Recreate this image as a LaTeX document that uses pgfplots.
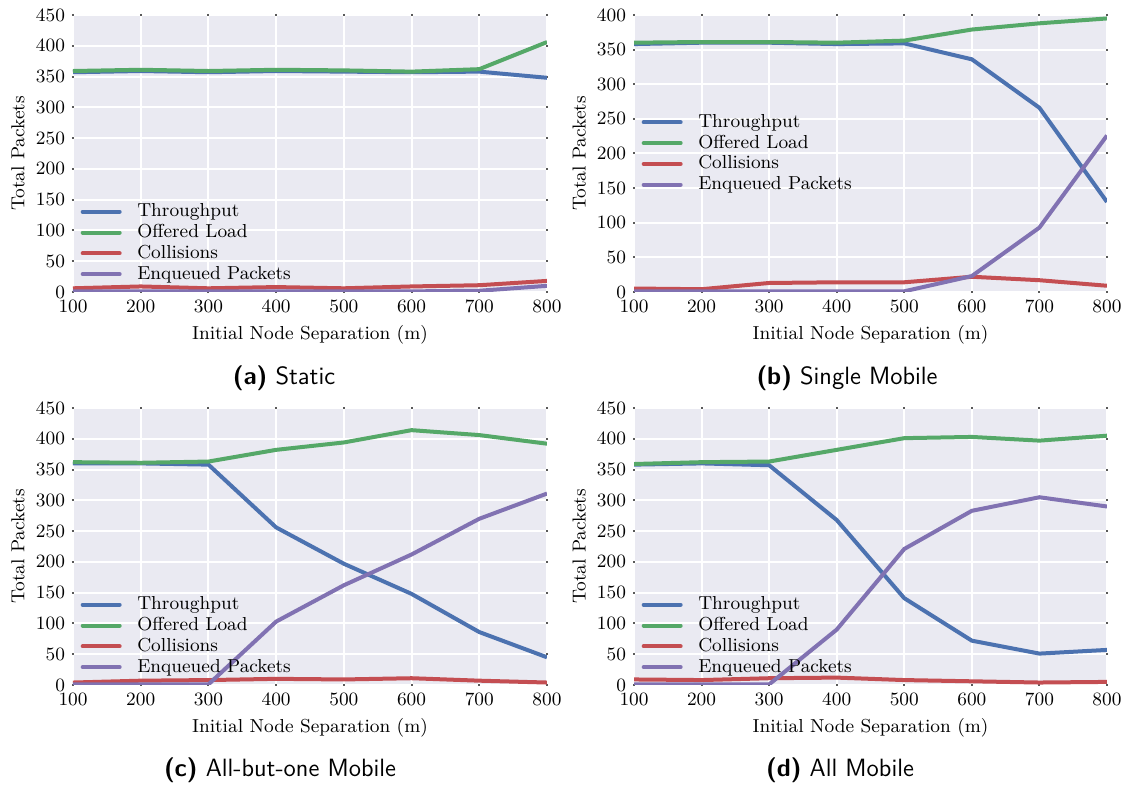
\documentclass[border=0pt]{standalone}
\usepackage{fontspec}
\usepackage{pgfplots}
\pgfplotsset{compat=1.18}
\definecolor{sbblue}{HTML}{4C72B0}
\definecolor{sbgreen}{HTML}{55A868}
\definecolor{sbred}{HTML}{C44E52}
\definecolor{sbpurple}{HTML}{8172B2}
\definecolor{sbbg}{HTML}{EAEAF2}
\newcommand{\fsz}{\fontsize{9.4pt}{11pt}\selectfont}
\newcommand{\capfont}{\sffamily\fontsize{12.5pt}{15pt}\selectfont}
\pgfplotsset{
 sbstyle/.style={
  scale only axis, height=138.5pt,
  xmin=100, xmax=800, ymin=0, enlargelimits=false,
  xtick={100,200,...,800},
  /pgf/number format/assume math mode=true,
  axis background/.style={fill=sbbg},
  axis line style={draw=none},
  grid=major, major grid style={white, line width=1pt},
  tick pos=both, tick align=center, major tick length=1pt,
  every tick/.style={black!65, line width=1pt},
  tick label style={font=\fsz},
  label style={font=\fsz},
  xlabel={Initial Node Separation (m)},
  ylabel={Total Packets},
  xlabel style={at={(axis description cs:0.5,-0.155)}, anchor=center},
  ylabel style={at={(axis description cs:-0.116,0.5)}, anchor=center},
  legend cell align=left,
  legend style={draw=none, fill=none, inner sep=0pt, outer sep=0pt, font=\fsz,
    nodes={inner sep=0.7pt, text height=7pt, text depth=2pt}, row sep=0pt},
  legend image code/.code={\path (0pt,0pt); \draw[##1, line width=2pt, line cap=round] (1pt,0pt) -- (19.5pt,0pt); \path (26.6pt,0pt);},
  every axis plot/.append style={line width=2pt, no markers},
 },
 lowleft/.style={legend style={at={(0.012,0.027)}, anchor=south west}},
 midleft/.style={legend style={at={(0.012,0.5)}, anchor=west}},
}
\begin{document}
\begin{tikzpicture}
\useasboundingbox (0,0) rectangle (565pt,-395.5pt);
% (a) Static
\begin{axis}[sbstyle, lowleft, width=237pt, at={(36.5pt,-7.5pt)}, anchor=north west,
  ymax=450, ytick={0,50,...,450}]
\addplot[sbblue] coordinates {(100,357)(200,359)(300,357)(400,359)(500,358)(600,357)(700,358)(800,348)};
\addplot[sbgreen] coordinates {(100,359)(200,361)(300,359)(400,361)(500,360)(600,358)(700,362)(800,406)};
\addplot[sbred] coordinates {(100,6)(200,9)(300,6)(400,8)(500,6)(600,9)(700,11)(800,18)};
\addplot[sbpurple] coordinates {(100,1)(200,1)(300,1)(400,1)(500,1)(600,1)(700,2)(800,10)};
\legend{Throughput, Offered Load, Collisions, Enqueued Packets}
\end{axis}
% (b) Single Mobile
\begin{axis}[sbstyle, midleft, width=236.5pt, at={(317pt,-7.5pt)}, anchor=north west,
  ymax=400, ytick={0,50,...,400}]
\addplot[sbblue] coordinates {(100,358)(200,360)(300,360)(400,358)(500,359)(600,336)(700,266)(800,130)};
\addplot[sbgreen] coordinates {(100,360)(200,361)(300,361)(400,360)(500,363)(600,379)(700,388)(800,395)};
\addplot[sbred] coordinates {(100,5)(200,4)(300,13)(400,14)(500,14)(600,22)(700,17)(800,9)};
\addplot[sbpurple] coordinates {(100,1)(200,1)(300,1)(400,1)(500,1)(600,23)(700,93)(800,226)};
\legend{Throughput, Offered Load, Collisions, Enqueued Packets}
\end{axis}
% (c) All-but-one Mobile
\begin{axis}[sbstyle, lowleft, width=237pt, at={(36.5pt,-204pt)}, anchor=north west,
  ymax=450, ytick={0,50,...,450}]
\addplot[sbblue] coordinates {(100,360)(200,360)(300,358)(400,256)(500,197)(600,148)(700,86)(800,45)};
\addplot[sbgreen] coordinates {(100,362)(200,361)(300,363)(400,382)(500,394)(600,414)(700,406)(800,392)};
\addplot[sbred] coordinates {(100,4)(200,7)(300,8)(400,10)(500,9)(600,11)(700,7)(800,4)};
\addplot[sbpurple] coordinates {(100,1)(200,1)(300,1)(400,103)(500,162)(600,212)(700,270)(800,311)};
\legend{Throughput, Offered Load, Collisions, Enqueued Packets}
\end{axis}
% (d) All Mobile
\begin{axis}[sbstyle, lowleft, width=236.5pt, at={(317pt,-204pt)}, anchor=north west,
  ymax=450, ytick={0,50,...,450}]
\addplot[sbblue] coordinates {(100,358)(200,360)(300,357)(400,268)(500,141)(600,72)(700,51)(800,57)};
\addplot[sbgreen] coordinates {(100,359)(200,362)(300,363)(400,382)(500,401)(600,403)(700,397)(800,405)};
\addplot[sbred] coordinates {(100,9)(200,8)(300,11)(400,12)(500,8)(600,6)(700,4)(800,5)};
\addplot[sbpurple] coordinates {(100,1)(200,1)(300,1)(400,90)(500,221)(600,283)(700,305)(800,290)};
\legend{Throughput, Offered Load, Collisions, Enqueued Packets}
\end{axis}
\node[font=\capfont] at (142pt,-189pt) {\textbf{(a)} Static};
\node[font=\capfont] at (423.5pt,-189pt) {\textbf{(b)} Single Mobile};
\node[font=\capfont] at (140pt,-385pt) {\textbf{(c)} All-but-one Mobile};
\node[font=\capfont] at (420pt,-385pt) {\textbf{(d)} All Mobile};
\end{tikzpicture}
\end{document}
